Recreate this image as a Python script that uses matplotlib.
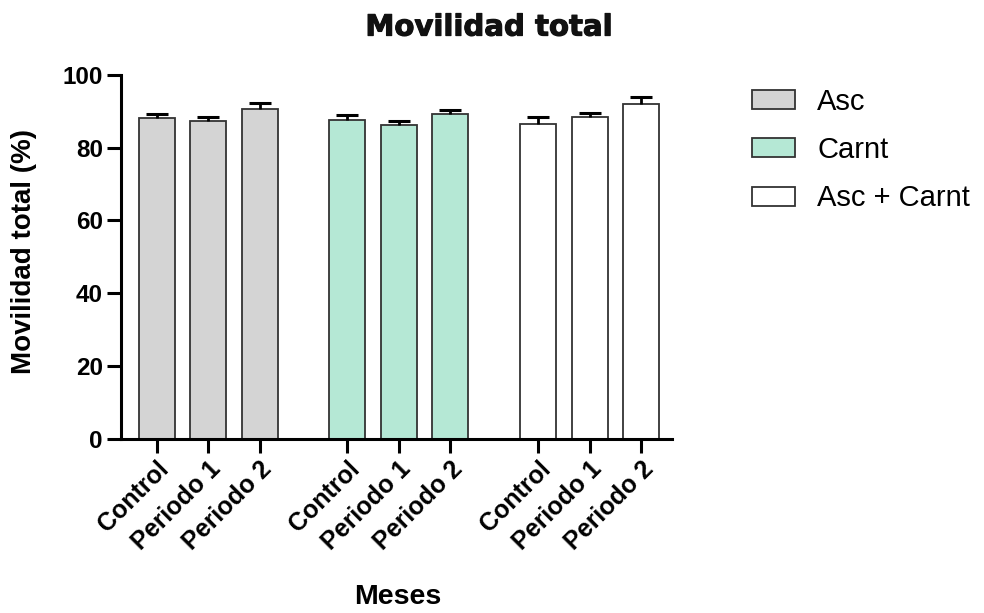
import numpy as np
import matplotlib.pyplot as plt
import matplotlib.patheffects as pe
from matplotlib.patches import Patch

# Data
groups = ["Asc", "Carnt", "Asc + Carnt"]
periods = ["Control", "Periodo 1", "Periodo 2"]
asc_mean = [88.0, 87.3, 90.7]
asc_err = [1.3, 1.0, 1.5]
carnt_mean = [87.7, 86.3, 89.1]
carnt_err = [1.2, 0.9, 1.2]
mix_mean = [86.6, 88.5, 92.0]
mix_err = [1.7, 1.1, 1.9]
colors = ["#d4d4d4", "#b5e8d5", "#ffffff"]

plt.rcParams["font.family"] = ["Liberation Sans", "DejaVu Sans"]

fig = plt.figure(figsize=(9.84, 6.13), dpi=100)
ax = fig.add_axes([0.123, 0.284, 0.560, 0.594])

group_offset = 3.7
all_means = [asc_mean, carnt_mean, mix_mean]
all_errs = [asc_err, carnt_err, mix_err]
xticks, xlabels = [], []
for g, (means, errs) in enumerate(zip(all_means, all_errs)):
    x = np.arange(len(periods)) + g * group_offset
    ax.bar(x, means, width=0.7, color=colors[g], edgecolor="#333333", linewidth=1.3, zorder=2)
    eb = ax.errorbar(x, means, yerr=[np.zeros(len(errs)), errs], fmt="none",
                     ecolor="black", elinewidth=2, capsize=8, capthick=2.2, zorder=3)
    # only the upper cap is shown
    eb[1][0].set_visible(False)
    xticks.extend(x)
    xlabels.extend(periods)

ax.set_xlim(-0.69, 10.0)
ax.set_ylim(0, 100)
ax.set_yticks(np.arange(0, 101, 20))
ax.set_xticks(xticks)
ax.set_xticklabels(xlabels, rotation=45, ha="right", va="top", rotation_mode="anchor",
                   fontsize=18, fontweight="bold")
for lab in ax.get_yticklabels():
    lab.set_fontsize(17.5)
    lab.set_fontweight("bold")

for side in ["top", "right"]:
    ax.spines[side].set_visible(False)
for side in ["left", "bottom"]:
    ax.spines[side].set_linewidth(2.2)
ax.tick_params(axis="both", direction="out", width=2.2, length=10, pad=3)

ax.set_ylabel("Movilidad total (%)", fontsize=20, fontweight="bold", va="center")
ax.yaxis.set_label_coords(-0.176, 0.515)
ax.set_xlabel("Meses", fontsize=20.5, fontweight="bold", va="center")
ax.xaxis.set_label_coords(0.503, -0.434)

# heavy title, thickened slightly with a thin stroke
fig.text(0.497, 0.955, "Movilidad total", ha="center", va="center",
         fontsize=21, fontweight="heavy", family=["DejaVu Sans"], color="#111111",
         path_effects=[pe.withStroke(linewidth=0.8, foreground="#111111")])

handles = [Patch(facecolor=c, edgecolor="#333333", linewidth=1.3) for c in colors]
fig.legend(handles, groups, loc="upper left", bbox_to_anchor=(0.764, 0.857),
           frameon=False, fontsize=21, handlelength=1.47, handleheight=0.62,
           labelspacing=0.7, handletextpad=0.78, borderpad=0, borderaxespad=0)

fig.savefig("out.png", dpi=100)
